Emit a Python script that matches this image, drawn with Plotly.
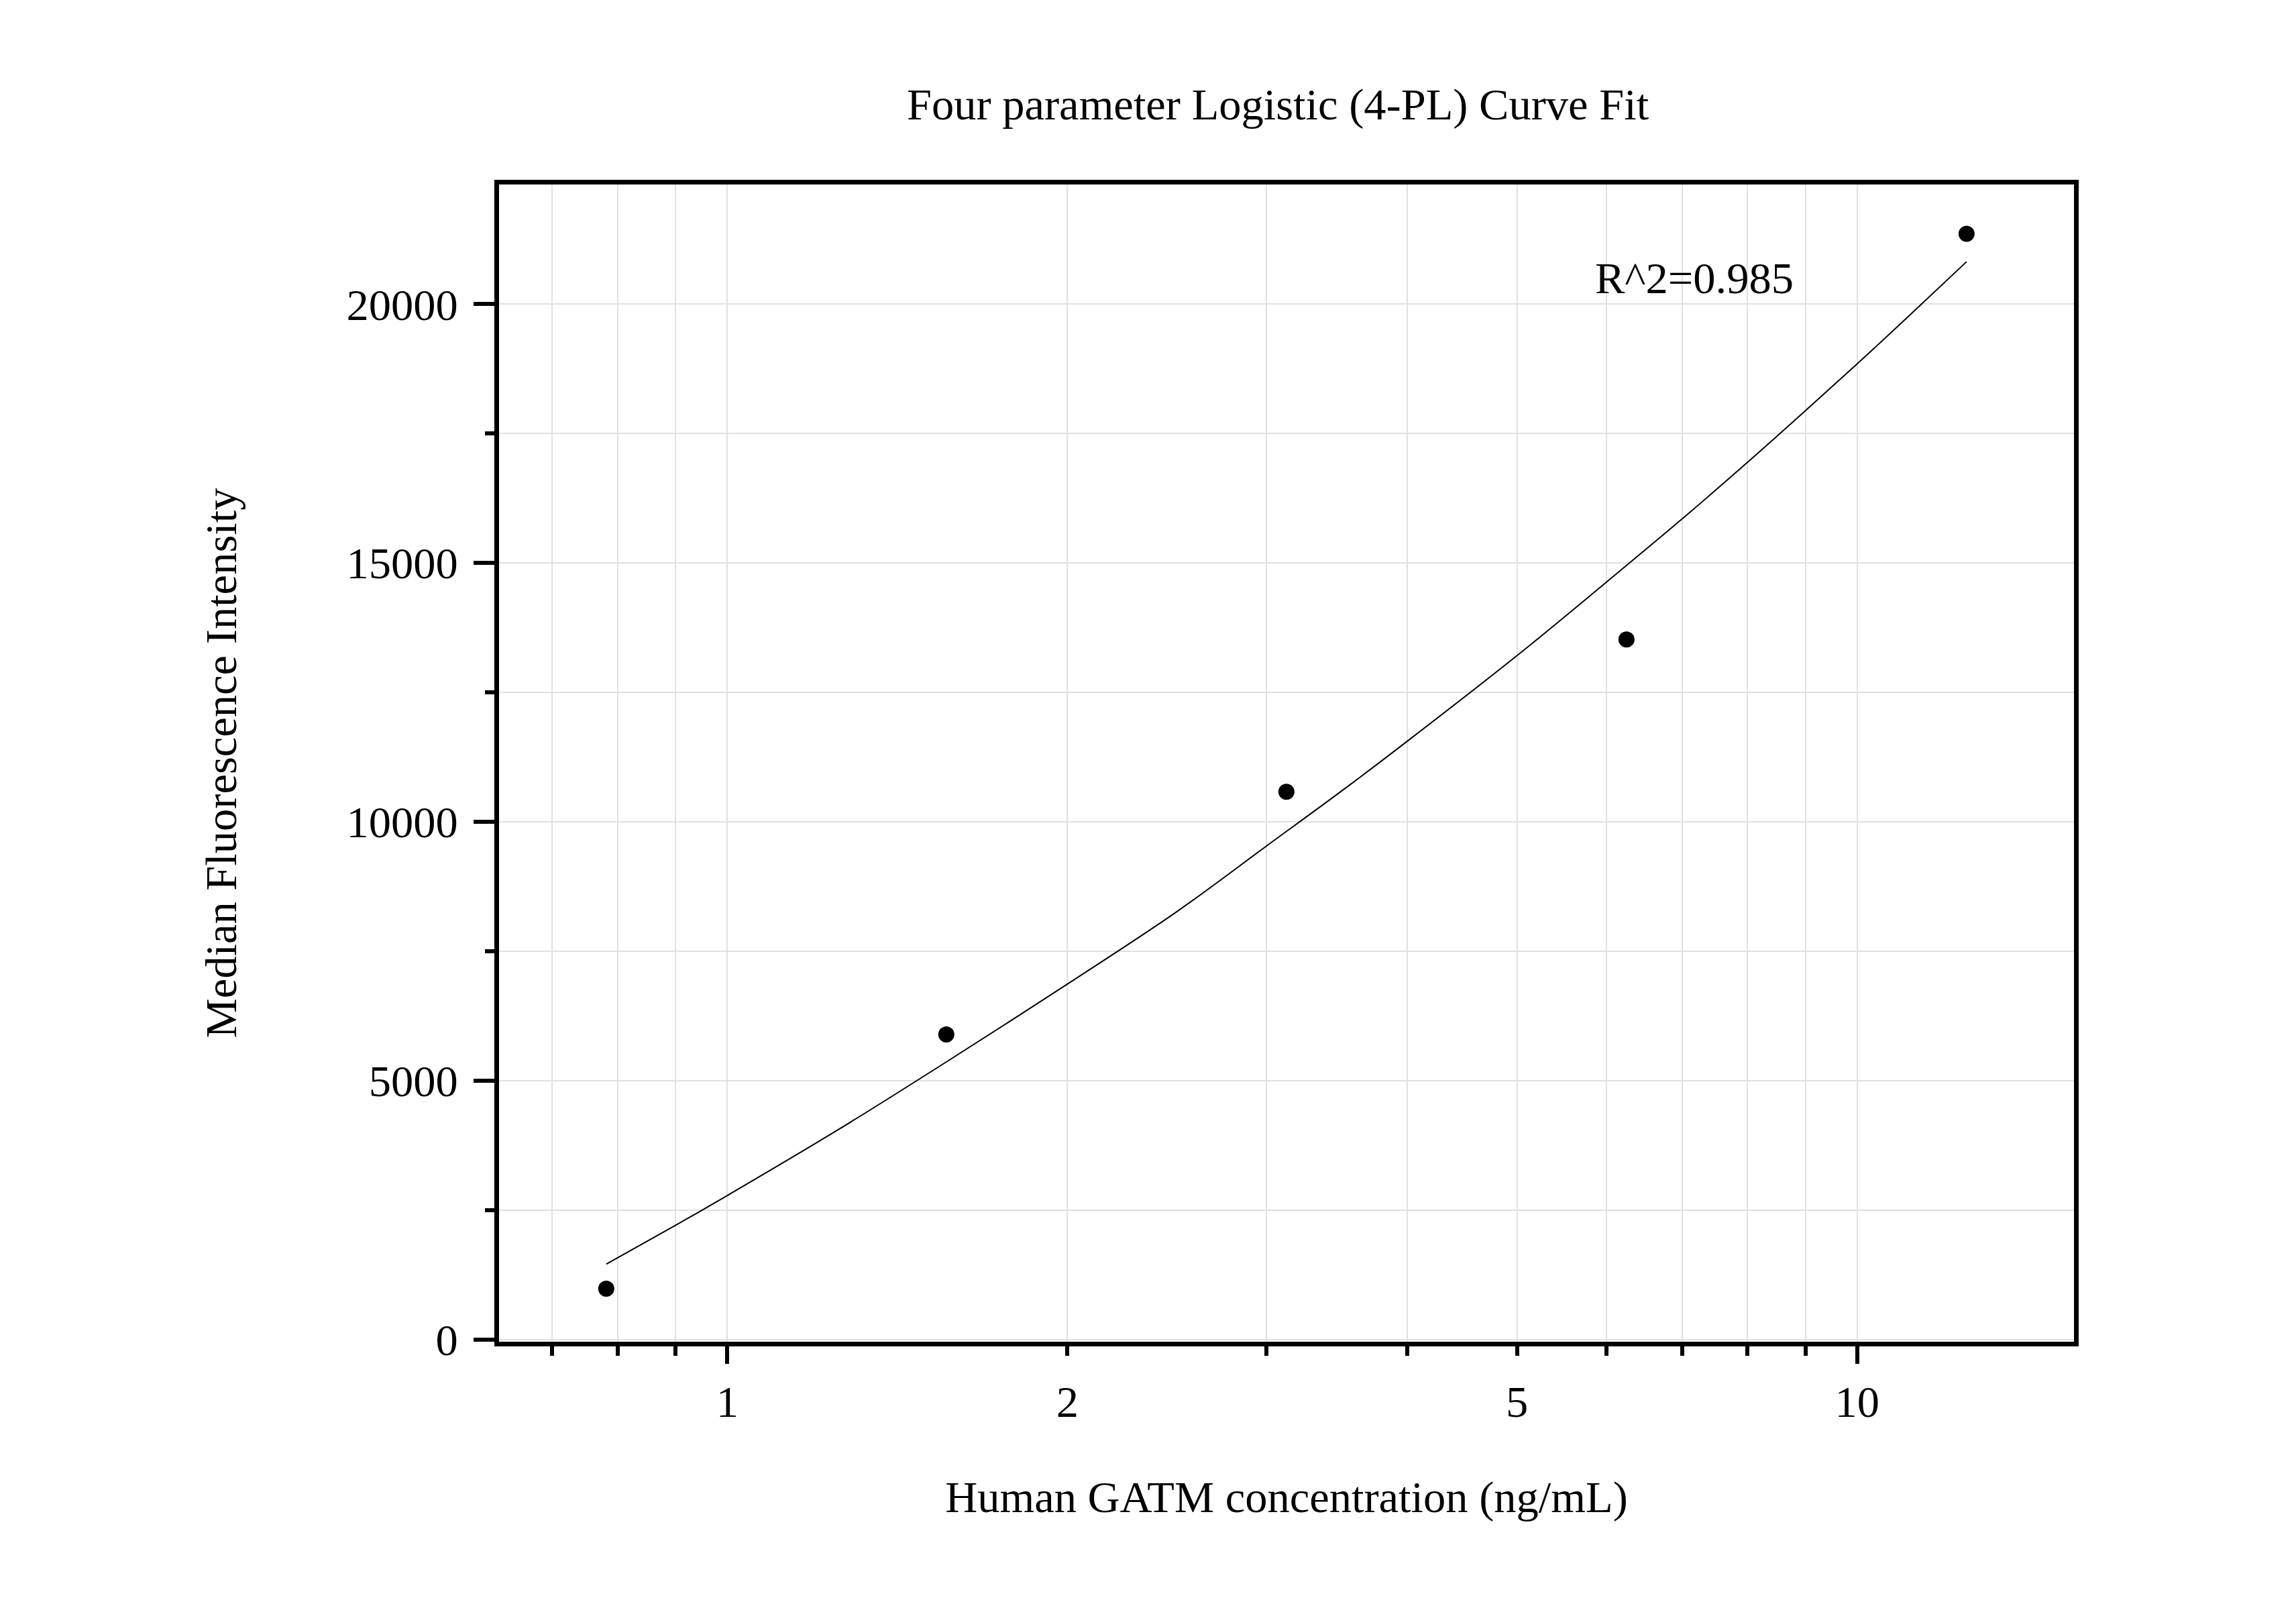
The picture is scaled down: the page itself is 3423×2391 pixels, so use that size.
import plotly.graph_objects as go

# standard concentrations (ng/mL) and measured MFI
conc = [0.78125, 1.5625, 3.125, 6.25, 12.5]
mfi = [980, 5890, 10580, 13520, 21360]

# fitted 4-PL curve
fit_x = [0.78125, 0.9, 1, 1.25, 1.5625, 2, 2.5, 3, 3.5, 4, 5, 6, 7, 8, 9, 10, 11, 12.5]
fit_y = [1455, 2205, 2780, 4035, 5360, 6865, 8265, 9530, 10600, 11560,
         13210, 14630, 15850, 16945, 17940, 18845, 19680, 20820]

x_labels = [1, 2, 5, 10]
x_minor = [0.7, 0.8, 0.9, 3, 4, 6, 7, 8, 9]
r2_text = "R^2=0.985"

font = "Liberation Serif"
fsize = 66.5
grid = "#e0e0e0"

fig = go.Figure()

fig.add_trace(go.Scatter(
    x=fit_x, y=fit_y, mode="lines",
    line=dict(color="black", width=2, shape="spline", smoothing=1.0),
    showlegend=False, hoverinfo="skip"))

fig.add_trace(go.Scatter(
    x=conc, y=mfi, mode="markers",
    marker=dict(color="black", size=24),
    showlegend=False))

# invisible trace on xaxis2 so the long decade ticks get drawn
fig.add_trace(go.Scatter(x=[1, 10], y=[None, None], xaxis="x2",
                         showlegend=False, hoverinfo="skip"))

fig.update_layout(
    width=3407, height=2375,
    margin=dict(l=735.5, r=322.5, t=266.5, b=382.5),
    paper_bgcolor="white", plot_bgcolor="white",
    font=dict(family=font, size=fsize, color="black"),
    title=dict(text="Four parameter Logistic (4-PL) Curve Fit",
               x=0.4945, xref="paper", y=1 - 147 / 2375, yref="container",
               xanchor="center", yanchor="middle",
               font=dict(family=font, size=fsize, color="black")),
    xaxis=dict(
        type="log", range=[-0.2021, 1.1920],
        tickvals=x_labels, ticktext=[str(v) for v in x_labels],
        ticks="outside", ticklen=14, tickwidth=6, tickcolor="black",
        showline=True, linewidth=7, linecolor="black", mirror=True,
        showgrid=True, gridcolor=grid, gridwidth=2, zeroline=False,
        minor=dict(tickvals=x_minor, ticks="outside", ticklen=14, tickwidth=6,
                   tickcolor="black", showgrid=True, gridcolor=grid, gridwidth=2),
        ticklabelstandoff=11,
        title=dict(text="Human GATM concentration (ng/mL)", standoff=85,
                   font=dict(family=font, size=fsize)),
    ),
    xaxis2=dict(
        type="log", range=[-0.2021, 1.1920], overlaying="x", side="bottom",
        tickvals=[1, 10], ticks="outside", ticklen=32, tickwidth=6,
        tickcolor="black", showticklabels=False, showgrid=False,
        showline=False, zeroline=False,
    ),
    yaxis=dict(
        range=[-45, 22312], dtick=5000, tick0=0, tickformat="d",
        ticks="outside", ticklen=31, tickwidth=6, tickcolor="black",
        showline=True, linewidth=7, linecolor="black", mirror=True,
        showgrid=True, gridcolor=grid, gridwidth=2, zeroline=False,
        minor=dict(dtick=2500, ticks="outside", ticklen=14, tickwidth=6,
                   tickcolor="black", showgrid=True, gridcolor=grid, gridwidth=2),
        ticklabelstandoff=10,
        title=dict(text="Median Fluorescence Intensity", standoff=145,
                   font=dict(family=font, size=fsize)),
    ),
    annotations=[dict(
        text=r2_text, x=0.7666, y=20510, xref="x", yref="y",
        xanchor="left", yanchor="middle", showarrow=False,
        font=dict(family=font, size=fsize, color="black"))],
)

fig.write_html("out.html")
